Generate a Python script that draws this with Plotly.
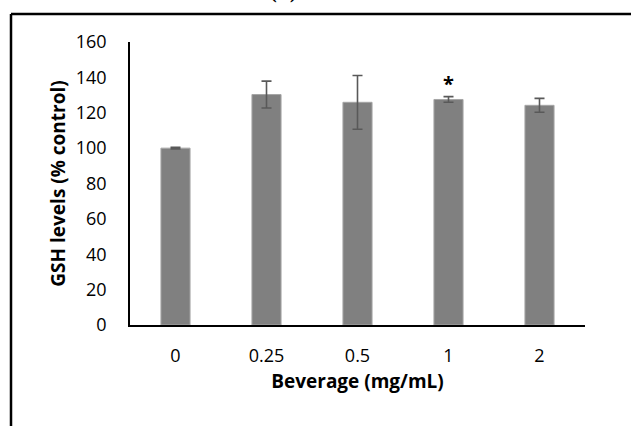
import plotly.graph_objects as go

categories = ["0", "0.25", "0.5", "1", "2"]
gsh_levels = [100.0, 130.3, 125.9, 127.5, 124.2]
gsh_error = [0.4, 7.6, 15.2, 1.6, 3.9]
y_ticks = [0, 20, 40, 60, 80, 100, 120, 140, 160]
sig_labels = ["", "", "", "*", ""]

FONT = "Open Sans"

W, H = 631, 426
L, T = 130, 42
PW, PH = 455, 283
R = W - L - PW
B = H - T - PH

fig = go.Figure()
fig.add_trace(go.Bar(
    x=list(range(len(categories))), y=gsh_levels,
    marker=dict(color="#808080", line=dict(color="#a6a6a6", width=1)),
    error_y=dict(type="data", array=gsh_error, visible=True,
                 color="#595959", thickness=1.6, width=5),
    width=0.32,
    showlegend=False,
))

for i, (v, e, s) in enumerate(zip(gsh_levels, gsh_error, sig_labels)):
    if s:
        fig.add_annotation(x=i, y=v + e, text="<b>" + s + "</b>", showarrow=False,
                           yanchor="bottom", yshift=-2,
                           font=dict(family=FONT, size=20, color="#000000"))

def px_x(p):
    return (p - L) / PW

def px_y(p):
    return (T + PH - p) / PH

# Outer frame (partially visible) and cut-off panel label
fig.add_shape(type="line", xref="paper", yref="paper", layer="above",
              x0=px_x(11), x1=px_x(640), y0=px_y(14), y1=px_y(14),
              line=dict(color="#000000", width=2.5))
fig.add_shape(type="line", xref="paper", yref="paper", layer="above",
              x0=px_x(11), x1=px_x(11), y0=px_y(14), y1=px_y(440),
              line=dict(color="#000000", width=2.5))
fig.add_annotation(xref="paper", yref="paper", x=px_x(268), y=px_y(5),
                   text="<b>(B)</b>", showarrow=False, yanchor="bottom",
                   font=dict(family="Liberation Serif", size=20, color="#000000"))

fig.update_layout(
    width=W, height=H,
    margin=dict(l=L, r=R, t=T, b=B, autoexpand=False),
    paper_bgcolor="#ffffff", plot_bgcolor="#ffffff",
    font=dict(family=FONT, size=18, color="#000000"),
    xaxis=dict(
        tickvals=list(range(len(categories))), ticktext=categories,
        range=[-0.5, len(categories) - 0.5],
        showline=True, linecolor="#000000", linewidth=1.5,
        ticks="", showgrid=False, tickfont=dict(size=18),
        ticklabelstandoff=14,
        title=dict(text="<b>Beverage (mg/mL)</b>", font=dict(size=19), standoff=8),
    ),
    yaxis=dict(
        range=[0, 160], tickvals=y_ticks,
        showline=True, linecolor="#000000", linewidth=1.5,
        ticks="", showgrid=False, zeroline=False, tickfont=dict(size=18),
        ticklabelstandoff=18,
        title=dict(text="<b>GSH levels (% control)</b>", font=dict(size=19), standoff=5),
    ),
)

fig.write_html(
    "out.html",
    config={"displayModeBar": False},
    post_script="document.body.style.margin='0';document.body.style.overflow='hidden';",
)
